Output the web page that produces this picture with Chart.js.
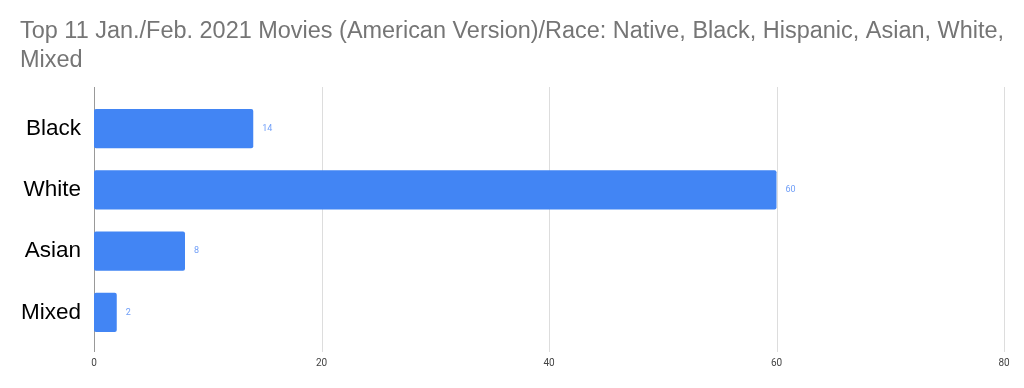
<!DOCTYPE html>
<html>
<head>
<meta charset="utf-8">
<script src="https://cdn.jsdelivr.net/npm/chart.js@4/dist/chart.umd.min.js"></script>
<style>
  html, body { margin: 0; padding: 0; background: #fff; }
  #wrap { width: 1024px; height: 388px; }
</style>
</head>
<body>
<div id="wrap"><canvas id="barchart"></canvas></div>
<script>
const categories = ['Black', 'White', 'Asian', 'Mixed'];
const counts = [14, 60, 8, 2];
const xTicks = [0, 20, 40, 60, 80];
const titleLines = ['Top 11 Jan./Feb. 2021 Movies (American Version)/Race: Native, Black, Hispanic, Asian, White,', 'Mixed'];

// vertical grid lines that run a bit past the plot area, like the original
const gridPlugin = {
	id: 'gridLines',
	beforeDatasetsDraw(chart) {
		const ctx = chart.ctx, x = chart.scales.x, area = chart.chartArea;
		ctx.save();
		xTicks.forEach(v => {
			const px = Math.round(x.getPixelForValue(v)) + 0.5;
			ctx.strokeStyle = v === 0 ? '#999999' : '#dddddd';
			ctx.lineWidth = 1;
			ctx.beginPath();
			ctx.moveTo(px, area.top - 11);
			ctx.lineTo(px, area.bottom + 9);
			ctx.stroke();
		});
		ctx.restore();
	}
};

// value labels after each bar
const valuePlugin = {
	id: 'valueLabels',
	afterDatasetsDraw(chart) {
		const ctx = chart.ctx;
		ctx.save();
		ctx.font = '9px Roboto, "Liberation Sans", Arial, sans-serif';
		ctx.fillStyle = '#6f9ef8';
		ctx.textBaseline = 'middle';
		ctx.textAlign = 'left';
		chart.getDatasetMeta(0).data.forEach((bar, i) => {
			ctx.fillText(counts[i], bar.x + 9, bar.y);
		});
		ctx.restore();
	}
};

new Chart(document.getElementById('barchart'), {
	type: 'bar',
	data: {
		labels: categories,
		datasets: [{
			data: counts,
			backgroundColor: '#4285f4',
			borderRadius: 2,
			borderSkipped: false,
			barPercentage: 0.64,
			categoryPercentage: 1,
		}]
	},
	options: {
		indexAxis: 'y',
		responsive: true,
		maintainAspectRatio: false,
		animation: false,
		layout: { padding: { left: 20, right: 20, top: 0, bottom: 0 } },
		plugins: {
			legend: { display: false },
			tooltip: { enabled: false },
			title: {
				display: true,
				text: titleLines,
				align: 'start',
				color: '#757575',
				font: { family: '"Liberation Sans", Arial, sans-serif', size: 23.5, weight: 'normal', lineHeight: 1.234 },
				padding: { top: 17.5, bottom: 22.5 }
			}
		},
		scales: {
			x: {
				min: 0,
				max: 80,
				afterBuildTicks(scale) { scale.ticks = xTicks.map(v => ({ value: v })); },
				grid: { display: false, drawTicks: false },
				border: { display: false },
				ticks: { color: '#444444', font: { family: 'Roboto, "Liberation Sans", Arial, sans-serif', size: 10 }, padding: 14 },
				afterFit(scale) { scale.height = 45; }
			},
			y: {
				grid: { display: false, drawTicks: false },
				border: { display: false },
				ticks: { color: '#000000', font: { family: '"Liberation Sans", Arial, sans-serif', size: 22.5 }, padding: 13 },
				afterFit(scale) { scale.width = 74; }
			}
		}
	},
	plugins: [gridPlugin, valuePlugin]
});
</script>
</body>
</html>
